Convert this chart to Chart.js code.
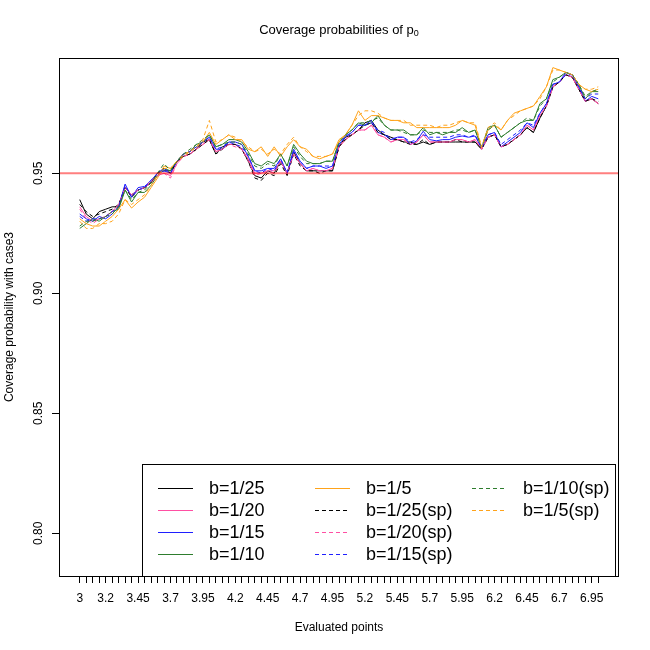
<!DOCTYPE html>
<html>
<head>
<meta charset="utf-8">
<script src="https://cdn.jsdelivr.net/npm/chart.js@4"></script>
<style>
  body { margin: 0; background: #fff; }
  #wrap { width: 650px; height: 650px; }
</style>
</head>
<body>
<div id="wrap"><canvas id="cov" width="650" height="650"></canvas></div>
<script>
// evaluated points (x axis)
const xPoints = [3, 3.05, 3.1, 3.15, 3.2, 3.25, 3.3, 3.35, 3.4, 3.45,
    3.5, 3.55, 3.6, 3.65, 3.7, 3.75, 3.8, 3.85, 3.9, 3.95,
    4, 4.05, 4.1, 4.15, 4.2, 4.25, 4.3, 4.35, 4.4, 4.45,
    4.5, 4.55, 4.6, 4.65, 4.7, 4.75, 4.8, 4.85, 4.9, 4.95,
    5, 5.05, 5.1, 5.15, 5.2, 5.25, 5.3, 5.35, 5.4, 5.45,
    5.5, 5.55, 5.6, 5.65, 5.7, 5.75, 5.8, 5.85, 5.9, 5.95,
    6, 6.05, 6.1, 6.15, 6.2, 6.25, 6.3, 6.35, 6.4, 6.45,
    6.5, 6.55, 6.6, 6.65, 6.7, 6.75, 6.8, 6.85, 6.9, 6.95, 7];
const yTicks = [0.80, 0.85, 0.90, 0.95];
const refLevel = 0.95;

const b25 = [0.939, 0.933, 0.931, 0.934, 0.935, 0.936, 0.936, 0.944, 0.941, 0.943,
    0.944, 0.946, 0.950, 0.951, 0.951, 0.955, 0.957, 0.958, 0.960, 0.963,
    0.964, 0.958, 0.961, 0.962, 0.962, 0.960, 0.955, 0.949, 0.948, 0.951,
    0.950, 0.955, 0.950, 0.959, 0.954, 0.951, 0.951, 0.951, 0.951, 0.951,
    0.961, 0.965, 0.966, 0.968, 0.971, 0.972, 0.968, 0.966, 0.965, 0.964,
    0.963, 0.963, 0.962, 0.963, 0.962, 0.963, 0.963, 0.963, 0.963, 0.963,
    0.963, 0.963, 0.960, 0.965, 0.966, 0.961, 0.962, 0.964, 0.966, 0.969,
    0.967, 0.973, 0.978, 0.986, 0.988, 0.991, 0.990, 0.985, 0.980, 0.981, 0.979];
const b20 = [0.936, 0.932, 0.930, 0.931, 0.932, 0.934, 0.937, 0.944, 0.941, 0.943,
    0.944, 0.946, 0.949, 0.950, 0.949, 0.954, 0.957, 0.958, 0.960, 0.962,
    0.964, 0.959, 0.960, 0.962, 0.962, 0.960, 0.956, 0.950, 0.950, 0.951,
    0.951, 0.955, 0.950, 0.958, 0.954, 0.951, 0.952, 0.951, 0.951, 0.952,
    0.961, 0.964, 0.966, 0.968, 0.968, 0.970, 0.966, 0.965, 0.963, 0.964,
    0.964, 0.962, 0.963, 0.966, 0.963, 0.963, 0.963, 0.963, 0.964, 0.964,
    0.963, 0.964, 0.960, 0.965, 0.966, 0.961, 0.962, 0.964, 0.966, 0.970,
    0.968, 0.974, 0.978, 0.986, 0.988, 0.991, 0.990, 0.985, 0.980, 0.981, 0.979];
const b15 = [0.933, 0.931, 0.930, 0.932, 0.931, 0.933, 0.936, 0.9455, 0.940, 0.944,
    0.9445, 0.947, 0.950, 0.951, 0.950, 0.955, 0.958, 0.959, 0.961, 0.963,
    0.965, 0.960, 0.960, 0.963, 0.963, 0.962, 0.957, 0.951, 0.951, 0.952,
    0.952, 0.956, 0.950, 0.960, 0.955, 0.952, 0.953, 0.953, 0.952, 0.953,
    0.962, 0.9655, 0.967, 0.970, 0.970, 0.972, 0.967, 0.966, 0.964, 0.965,
    0.965, 0.962, 0.9635, 0.9675, 0.964, 0.9635, 0.964, 0.964, 0.965, 0.9655,
    0.965, 0.9655, 0.9605, 0.966, 0.967, 0.961, 0.963, 0.965, 0.967, 0.971,
    0.969, 0.975, 0.979, 0.987, 0.988, 0.992, 0.991, 0.986, 0.980, 0.982, 0.981];
const b10 = [0.927, 0.929, 0.931, 0.930, 0.932, 0.934, 0.935, 0.943, 0.938, 0.942,
    0.942, 0.945, 0.949, 0.952, 0.951, 0.955, 0.958, 0.959, 0.962, 0.963,
    0.966, 0.961, 0.962, 0.964, 0.964, 0.963, 0.959, 0.954, 0.953, 0.955,
    0.954, 0.958, 0.953, 0.962, 0.958, 0.955, 0.954, 0.954, 0.955, 0.955,
    0.963, 0.966, 0.968, 0.971, 0.970, 0.971, 0.974, 0.970, 0.968, 0.968,
    0.968, 0.966, 0.966, 0.969, 0.966, 0.967, 0.966, 0.967, 0.967, 0.969,
    0.967, 0.968, 0.9605, 0.969, 0.970, 0.965, 0.967, 0.969, 0.971, 0.972,
    0.972, 0.979, 0.981, 0.989, 0.990, 0.992, 0.991, 0.987, 0.981, 0.984, 0.984];
const b5 = [0.931, 0.929, 0.928, 0.928, 0.930, 0.932, 0.935, 0.939, 0.9355, 0.938,
    0.940, 0.944, 0.948, 0.953, 0.952, 0.955, 0.958, 0.959, 0.961, 0.963,
    0.967, 0.962, 0.964, 0.966, 0.964, 0.964, 0.960, 0.959, 0.961, 0.957,
    0.961, 0.957, 0.961, 0.964, 0.961, 0.960, 0.957, 0.956, 0.957, 0.958,
    0.964, 0.966, 0.970, 0.976, 0.972, 0.974, 0.974, 0.973, 0.972, 0.972,
    0.971, 0.971, 0.969, 0.969, 0.969, 0.969, 0.969, 0.969, 0.970, 0.972,
    0.971, 0.970, 0.9605, 0.968, 0.970, 0.968, 0.972, 0.975, 0.976, 0.977,
    0.978, 0.982, 0.986, 0.994, 0.993, 0.992, 0.991, 0.987, 0.985, 0.984, 0.985];
const b25sp = [0.937, 0.934, 0.932, 0.933, 0.934, 0.935, 0.937, 0.944, 0.940, 0.943,
    0.944, 0.946, 0.950, 0.952, 0.950, 0.955, 0.957, 0.958, 0.960, 0.962,
    0.964, 0.958, 0.960, 0.962, 0.962, 0.960, 0.955, 0.948, 0.947, 0.950,
    0.949, 0.954, 0.949, 0.958, 0.953, 0.951, 0.951, 0.950, 0.951, 0.951,
    0.961, 0.964, 0.966, 0.968, 0.970, 0.971, 0.967, 0.966, 0.964, 0.964,
    0.963, 0.962, 0.962, 0.964, 0.962, 0.963, 0.963, 0.963, 0.964, 0.963,
    0.963, 0.963, 0.960, 0.965, 0.966, 0.961, 0.962, 0.964, 0.966, 0.969,
    0.967, 0.973, 0.978, 0.986, 0.988, 0.991, 0.990, 0.985, 0.980, 0.981, 0.980];
const b20sp = [0.935, 0.931, 0.929, 0.931, 0.932, 0.934, 0.937, 0.944, 0.941, 0.943,
    0.944, 0.947, 0.949, 0.950, 0.948, 0.954, 0.957, 0.958, 0.960, 0.962,
    0.964, 0.959, 0.960, 0.962, 0.961, 0.960, 0.955, 0.949, 0.950, 0.951,
    0.950, 0.955, 0.950, 0.958, 0.954, 0.951, 0.952, 0.951, 0.951, 0.952,
    0.961, 0.964, 0.966, 0.968, 0.968, 0.970, 0.966, 0.965, 0.963, 0.964,
    0.964, 0.962, 0.963, 0.966, 0.963, 0.963, 0.963, 0.963, 0.964, 0.964,
    0.963, 0.964, 0.960, 0.965, 0.966, 0.961, 0.962, 0.964, 0.966, 0.970,
    0.968, 0.974, 0.978, 0.986, 0.988, 0.991, 0.990, 0.985, 0.980, 0.981, 0.979];
const b15sp = [0.932, 0.930, 0.931, 0.931, 0.932, 0.934, 0.936, 0.945, 0.940, 0.943,
    0.944, 0.947, 0.950, 0.952, 0.950, 0.955, 0.958, 0.959, 0.961, 0.963,
    0.965, 0.960, 0.961, 0.963, 0.962, 0.961, 0.957, 0.951, 0.950, 0.952,
    0.951, 0.956, 0.950, 0.959, 0.955, 0.952, 0.953, 0.953, 0.953, 0.953,
    0.962, 0.965, 0.967, 0.970, 0.970, 0.971, 0.968, 0.967, 0.964, 0.965,
    0.965, 0.963, 0.964, 0.966, 0.965, 0.965, 0.965, 0.965, 0.966, 0.966,
    0.965, 0.966, 0.9605, 0.966, 0.967, 0.962, 0.964, 0.966, 0.968, 0.971,
    0.970, 0.975, 0.979, 0.987, 0.988, 0.991, 0.991, 0.986, 0.981, 0.983, 0.983];
const b10sp = [0.928, 0.930, 0.930, 0.931, 0.932, 0.933, 0.936, 0.943, 0.939, 0.942,
    0.943, 0.946, 0.950, 0.954, 0.951, 0.955, 0.958, 0.960, 0.962, 0.964,
    0.966, 0.961, 0.962, 0.963, 0.963, 0.962, 0.958, 0.953, 0.952, 0.954,
    0.953, 0.958, 0.953, 0.961, 0.957, 0.954, 0.954, 0.954, 0.955, 0.955,
    0.963, 0.966, 0.968, 0.971, 0.971, 0.972, 0.973, 0.970, 0.968, 0.968,
    0.967, 0.966, 0.966, 0.968, 0.967, 0.967, 0.967, 0.967, 0.968, 0.968,
    0.967, 0.968, 0.961, 0.968, 0.970, 0.965, 0.967, 0.969, 0.971, 0.973,
    0.972, 0.978, 0.981, 0.988, 0.990, 0.992, 0.991, 0.987, 0.982, 0.984, 0.985];
const b5sp = [0.930, 0.927, 0.927, 0.929, 0.929, 0.930, 0.933, 0.939, 0.937, 0.939,
    0.941, 0.945, 0.949, 0.952, 0.952, 0.955, 0.957, 0.959, 0.961, 0.964,
    0.972, 0.963, 0.964, 0.966, 0.965, 0.963, 0.961, 0.959, 0.960, 0.958,
    0.960, 0.958, 0.962, 0.965, 0.961, 0.959, 0.957, 0.957, 0.957, 0.958,
    0.963, 0.966, 0.970, 0.974, 0.976, 0.976, 0.975, 0.973, 0.972, 0.972,
    0.972, 0.970, 0.970, 0.970, 0.970, 0.969, 0.970, 0.970, 0.971, 0.972,
    0.971, 0.971, 0.961, 0.969, 0.971, 0.968, 0.972, 0.974, 0.976, 0.977,
    0.978, 0.981, 0.986, 0.993, 0.993, 0.992, 0.991, 0.987, 0.985, 0.985, 0.986];

const seriesLabels = ['b=1/25', 'b=1/20', 'b=1/15', 'b=1/10', 'b=1/5',
    'b=1/25(sp)', 'b=1/20(sp)', 'b=1/15(sp)', 'b=1/10(sp)', 'b=1/5(sp)'];
const seriesData = [b25, b20, b15, b10, b5, b25sp, b20sp, b15sp, b10sp, b5sp];
const seriesColors = ['#000000', '#ff4fa3', '#1f1fff', '#2e7d2e', '#ffa31a',
    '#000000', '#ff4fa3', '#1f1fff', '#2e7d2e', '#ffa31a'];
const seriesDashed = [false, false, false, false, false, true, true, true, true, true];

const FONT = "'Liberation Sans', Arial, Helvetica, sans-serif";
Chart.defaults.font.family = FONT;
Chart.defaults.color = '#000';

// R-style decorations: box, abline, titles, rotated y labels, legend
const rDecor = {
    id: 'rDecor',
    afterDatasetsDraw(chart) {
        const { ctx, chartArea: a, scales } = chart;
        const yRef = scales.y.getPixelForValue(refLevel);
        ctx.save();
        ctx.strokeStyle = 'rgba(255, 0, 0, 0.5)';
        ctx.lineWidth = 2;
        ctx.beginPath();
        ctx.moveTo(a.left, yRef);
        ctx.lineTo(a.right, yRef);
        ctx.stroke();
        ctx.restore();
    },
    afterDraw(chart) {
        const { ctx, chartArea: a, scales } = chart;
        ctx.save();
        ctx.strokeStyle = '#000';
        ctx.lineWidth = 1;
        ctx.strokeRect(a.left + 0.5, a.top + 0.5, a.right - a.left - 1, a.bottom - a.top);

        ctx.fillStyle = '#000';
        ctx.textAlign = 'center';
        ctx.textBaseline = 'middle';

        // main title with subscript
        const cx = (a.left + a.right) / 2;
        ctx.font = '13px ' + FONT;
        const main = 'Coverage probabilities of p';
        const wMain = ctx.measureText(main).width;
        ctx.font = '9px ' + FONT;
        const wSub = ctx.measureText('0').width;
        const start = cx - (wMain + wSub) / 2;
        ctx.textAlign = 'left';
        ctx.font = '13px ' + FONT;
        ctx.fillText(main, start, 30);
        ctx.font = '9px ' + FONT;
        ctx.fillText('0', start + wMain, 34);

        // axis titles
        ctx.textAlign = 'center';
        ctx.font = '12px ' + FONT;
        ctx.fillText('Evaluated points', cx, 628);
        ctx.save();
        ctx.translate(10, (a.top + a.bottom) / 2);
        ctx.rotate(-Math.PI / 2);
        ctx.fillText('Coverage probability with case3', 0, 0);
        ctx.restore();

        // y tick labels, vertical like R
        yTicks.forEach(v => {
            const py = scales.y.getPixelForValue(v);
            ctx.save();
            ctx.translate(39, py);
            ctx.rotate(-Math.PI / 2);
            ctx.fillText(v.toFixed(2), 0, 0);
            ctx.restore();
        });

        // legend box
        const bx = a.left + 83, by = a.bottom - 112;
        ctx.fillStyle = '#fff';
        ctx.fillRect(bx, by, a.right - 4 - bx, a.bottom - by);
        ctx.strokeStyle = '#000';
        ctx.strokeRect(bx + 0.5, by + 0.5, a.right - 4 - bx, a.bottom - by);
        ctx.font = '18px ' + FONT;
        ctx.textAlign = 'left';
        seriesLabels.forEach((lab, i) => {
            const col = Math.floor(i / 4), row = i % 4;
            const lx = bx + 16 + col * 157;
            const ly = by + 24 + row * 22;
            ctx.strokeStyle = seriesColors[i];
            ctx.lineWidth = 1;
            ctx.setLineDash(seriesDashed[i] ? [4, 3] : []);
            ctx.beginPath();
            ctx.moveTo(lx, ly + 0.5);
            ctx.lineTo(lx + 35, ly + 0.5);
            ctx.stroke();
            ctx.setLineDash([]);
            ctx.fillStyle = '#000';
            ctx.fillText(lab, lx + 51, ly + 1);
        });
        ctx.restore();
    }
};

new Chart(document.getElementById('cov'), {
    type: 'line',
    data: {
        datasets: seriesData.map((arr, i) => ({
            label: seriesLabels[i],
            data: xPoints.map((x, j) => ({ x: x, y: arr[j] })),
            borderColor: seriesColors[i],
            borderWidth: 1,
            borderDash: seriesDashed[i] ? [4, 3] : [],
            pointRadius: 0,
            tension: 0,
            fill: false,
            order: seriesData.length - i
        }))
    },
    options: {
        responsive: false,
        animation: false,
        devicePixelRatio: 1,
        layout: { padding: { top: 58, right: 31, bottom: 0, left: 0 } },
        plugins: { legend: { display: false }, tooltip: { enabled: false } },
        scales: {
            x: {
                type: 'linear',
                min: 2.84,
                max: 7.16,
                afterBuildTicks: s => { s.ticks = xPoints.map(v => ({ value: v })); },
                afterFit: s => { s.height = 74; },
                grid: { drawOnChartArea: false, drawTicks: true, tickLength: 7, color: '#000' },
                border: { display: false },
                ticks: {
                    autoSkip: false,
                    maxRotation: 0,
                    minRotation: 0,
                    padding: 8,
                    color: '#000',
                    font: { size: 12 },
                    callback: (v, i) => (i === 0 || (i - 4) % 5 === 0) ? String(+Number(v).toFixed(2)) : ''
                }
            },
            y: {
                type: 'linear',
                min: 0.7822,
                max: 0.998,
                afterBuildTicks: s => { s.ticks = yTicks.map(v => ({ value: v })); },
                afterFit: s => { s.width = 59; },
                grid: { drawOnChartArea: false, drawTicks: true, tickLength: 7, color: '#000' },
                border: { display: false },
                ticks: { display: false }
            }
        }
    },
    plugins: [rDecor]
});
</script>
</body>
</html>
